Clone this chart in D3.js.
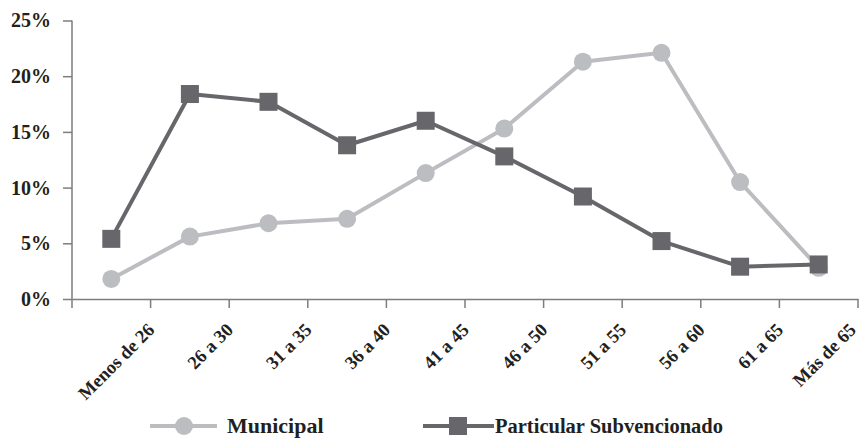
<!DOCTYPE html>
<html>
<head>
<meta charset="utf-8">
<script src="https://cdn.jsdelivr.net/npm/d3@7"></script>
<style>
  html, body { margin: 0; padding: 0; background: #fff; }
  svg text { font-family: "Liberation Serif", "DejaVu Serif", serif; fill: #231f20; font-weight: bold; }
</style>
</head>
<body>
<svg id="chart" width="860" height="440"></svg>
<script>
// Age groups on the horizontal axis
const categories = ["Menos de 26", "26 a 30", "31 a 35", "36 a 40", "41 a 45",
                    "46 a 50", "51 a 55", "56 a 60", "61 a 65", "Más de 65"];
// Share of teachers in each age group (%)
const municipal   = [1.8, 5.6, 6.8, 7.2, 11.3, 15.3, 21.3, 22.1, 10.5, 2.8];
const particular  = [5.4, 18.4, 17.7, 13.8, 16.0, 12.8, 9.2, 5.2, 2.9, 3.1];
const yTicks = [0, 5, 10, 15, 20, 25];
const seriesNames = ["Municipal", "Particular Subvencionado"];

const svg = d3.select("#chart");
const axisColor = "#7d7d7f";
const lightGray = "#bcbdc1";
const darkGray = "#67676b";

const x = d3.scaleBand().domain(categories).range([72, 858]).padding(0);
const y = d3.scaleLinear().domain([0, 25]).range([299, 20.5]);
const bw = x.bandwidth();
const cx = d => x(d) + bw / 2;

// Y axis
const yAxis = svg.append("g")
  .attr("transform", "translate(72,0)")
  .call(d3.axisLeft(y).tickValues(yTicks).tickFormat(d => d + "%").tickSize(9).tickSizeOuter(0));
yAxis.attr("font-family", null).attr("font-size", null);
yAxis.select(".domain").attr("stroke", axisColor).attr("stroke-width", 1.5)
  .attr("d", `M0,${y(25)}V${y(0) + 9}`);
yAxis.selectAll(".tick line").attr("stroke", axisColor).attr("stroke-width", 1.5);
yAxis.selectAll(".tick text")
  .attr("x", -21).attr("fill", "#231f20")
  .style("font-size", "20px");

// X axis: ticks at the right edge of every age band
const xAxis = svg.append("g")
  .attr("transform", `translate(0,${y(0)})`)
  .call(d3.axisBottom(x).tickSize(9).tickSizeOuter(0).tickFormat(""));
xAxis.select(".domain").attr("stroke", axisColor).attr("stroke-width", 1.5);
xAxis.selectAll(".tick line")
  .attr("x1", bw / 2).attr("x2", bw / 2)
  .attr("stroke", axisColor).attr("stroke-width", 1.5);

// Rotated category labels, ending at the right edge of each band
svg.append("g").selectAll("text").data(categories).join("text")
  .attr("text-anchor", "end")
  .attr("transform", d => `translate(${Math.min(x(d) + bw + 5, 857)},${y(0) + 32}) rotate(-45)`)
  .style("font-size", "18.5px")
  .text(d => d);

// Lines
const line = d3.line().x((d, i) => cx(categories[i])).y(d => y(d));

svg.append("path").datum(municipal)
  .attr("fill", "none").attr("stroke", lightGray).attr("stroke-width", 4)
  .attr("stroke-linejoin", "round").attr("d", line);
svg.append("g").selectAll("circle").data(municipal).join("circle")
  .attr("cx", (d, i) => cx(categories[i])).attr("cy", d => y(d))
  .attr("r", 9).attr("fill", lightGray);

svg.append("path").datum(particular)
  .attr("fill", "none").attr("stroke", darkGray).attr("stroke-width", 4)
  .attr("stroke-linejoin", "round").attr("d", line);
const sq = 18;
svg.append("g").selectAll("rect").data(particular).join("rect")
  .attr("x", (d, i) => cx(categories[i]) - sq / 2).attr("y", d => y(d) - sq / 2)
  .attr("width", sq).attr("height", sq).attr("fill", darkGray);

// Legend
const legY = 426;
const leg = svg.append("g");
leg.append("line").attr("x1", 150).attr("x2", 217).attr("y1", legY).attr("y2", legY)
  .attr("stroke", lightGray).attr("stroke-width", 4);
leg.append("circle").attr("cx", 184).attr("cy", legY).attr("r", 9).attr("fill", lightGray);
leg.append("text").attr("x", 227).attr("y", legY).attr("dy", "0.33em")
  .style("font-size", "22px").text(seriesNames[0]);

leg.append("line").attr("x1", 423).attr("x2", 494).attr("y1", legY).attr("y2", legY)
  .attr("stroke", darkGray).attr("stroke-width", 4);
leg.append("rect").attr("x", 449).attr("y", legY - sq / 2).attr("width", sq).attr("height", sq)
  .attr("fill", darkGray);
leg.append("text").attr("x", 495).attr("y", legY).attr("dy", "0.33em")
  .style("font-size", "20.5px").text(seriesNames[1]);
</script>
</body>
</html>
